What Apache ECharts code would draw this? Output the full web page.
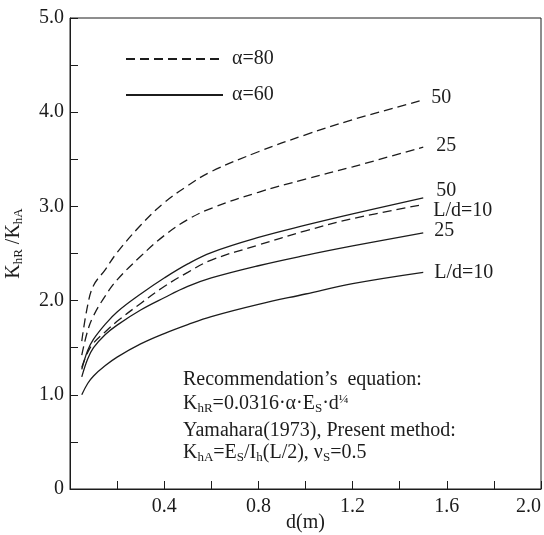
<!DOCTYPE html>
<html><head><meta charset="utf-8">
<script src="https://cdn.jsdelivr.net/npm/echarts@6/dist/echarts.min.js"></script>
<style>html,body{margin:0;padding:0;background:#fff}#c{width:544px;height:535px}</style>
</head><body><div id="c"></div>
<script>
// pile diameter d (m)
const dValues = [0.05, 0.075, 0.1, 0.15, 0.2, 0.3, 0.4, 0.5, 0.6, 0.8, 1.0, 1.2, 1.5];
// alpha = 80 (dashed)
const a80_L50 = [1.57, 1.95, 2.16, 2.33, 2.51, 2.80, 3.04, 3.22, 3.37, 3.58, 3.76, 3.92, 4.13];
const a80_L25 = [1.42, 1.68, 1.84, 2.05, 2.22, 2.47, 2.69, 2.86, 2.98, 3.15, 3.29, 3.42, 3.63];
const a80_L10 = [1.29, 1.45, 1.55, 1.67, 1.78, 1.97, 2.15, 2.30, 2.43, 2.59, 2.74, 2.87, 3.02];
// alpha = 60 (solid)
const a60_L50 = [1.27, 1.47, 1.59, 1.75, 1.88, 2.07, 2.24, 2.39, 2.51, 2.67, 2.80, 2.92, 3.09];
const a60_L25 = [1.19, 1.38, 1.50, 1.64, 1.74, 1.90, 2.03, 2.15, 2.24, 2.37, 2.48, 2.58, 2.72];
const a60_L10 = [1.00, 1.12, 1.20, 1.31, 1.40, 1.54, 1.65, 1.745, 1.83, 1.96, 2.07, 2.18, 2.30];

const legendNames = ['α=80', 'α=60'];
const curveLabels = ['50', '25', 'L/d=10'];
const xTickLabels = ['0.4', '0.8', '1.2', '1.6', '2.0'];
const yTickLabels = ['0', '1.0', '2.0', '3.0', '4.0', '5.0'];

const FONT = 'Liberation Serif';
const FS = 20;
const INK = '#1c1c1c';

function pairs(vals) { return dValues.map((d, i) => [d, vals[i]]); }

function makeSeries(name, vals, dashed, label, offset) {
  return {
    name: name, type: 'line', data: pairs(vals),
    symbol: 'none', smooth: 0.4,
    lineStyle: { color: INK, width: 1.3, type: dashed ? [9, 5] : 'solid' },
    itemStyle: { color: INK },
    endLabel: { show: true, formatter: label, offset: offset,
      fontFamily: FONT, fontSize: FS, color: INK },
    z: 3
  };
}

const sub = { fontFamily: FONT, fontSize: 13, color: INK, verticalAlign: 'bottom', lineHeight: 14 };
const main = { fontFamily: FONT, fontSize: FS, color: INK, lineHeight: 22 };
const sup = { fontFamily: FONT, fontSize: 13, color: INK, verticalAlign: 'top', lineHeight: 18 };
const richSet = { m: main, s: sub, u: sup };

function textEl(x, y, text) {
  return { type: 'text', style: { x: x, y: y, text: text, rich: richSet,
    verticalAlign: 'middle', align: 'left', fill: INK, font: FS + 'px ' + FONT } };
}

const chart = echarts.init(document.getElementById('c'), null, { renderer: 'canvas' });
chart.setOption({
  animation: false,
  backgroundColor: '#fff',
  grid: { left: 70, right: 3, top: 18, bottom: 46, show: true, borderColor: INK, borderWidth: 1,
    containLabel: false, outerBoundsMode: 'none' },
  legend: {
    orient: 'vertical', left: 120, top: 44, itemWidth: 97, itemHeight: 2, itemGap: 16,
    data: legendNames,
    itemStyle: { opacity: 0 },
    textStyle: { fontFamily: FONT, fontSize: FS, color: INK, padding: [0, 0, 0, 4] }
  },
  xAxis: {
    type: 'value', min: 0, max: 2.0, interval: 0.2,
    name: 'd(m)', nameLocation: 'middle', nameGap: 24, nameMoveOverlap: false,
    nameTextStyle: { fontFamily: FONT, fontSize: FS, color: INK },
    axisLine: { lineStyle: { color: INK, width: 1 } },
    axisTick: { inside: true, length: 8, lineStyle: { color: INK } },
    splitLine: { show: false },
    axisLabel: { fontFamily: FONT, fontSize: FS, color: INK, margin: 8, alignMaxLabel: 'right',
      formatter: v => { const s = v.toFixed(1); return xTickLabels.includes(s) ? s : ''; } }
  },
  yAxis: {
    type: 'value', min: 0, max: 5.0, interval: 0.5,
    name: '{m|K}{s|hR}{m| /K}{s|hA}', nameLocation: 'middle', nameGap: 45, nameRotate: 90,
    nameTextStyle: { rich: richSet, fontFamily: FONT, fontSize: FS, color: INK, padding: [0, 0, 0, 20] },
    axisLine: { lineStyle: { color: INK, width: 1 } },
    axisTick: { inside: true, length: 8, lineStyle: { color: INK } },
    splitLine: { show: false },
    axisLabel: { fontFamily: FONT, fontSize: FS, color: INK, margin: 6,
      formatter: v => { const s = v === 0 ? '0' : v.toFixed(1); return yTickLabels.includes(s) ? s : ''; } }
  },
  series: [
    makeSeries(legendNames[0], a80_L50, true, curveLabels[0], [0, -2]),
    makeSeries(legendNames[0], a80_L25, true, curveLabels[1], [5, -1]),
    makeSeries(legendNames[0], a80_L10, true, curveLabels[2], [2, 6]),
    makeSeries(legendNames[1], a60_L50, false, curveLabels[0], [5, -7]),
    makeSeries(legendNames[1], a60_L25, false, curveLabels[1], [3, -2]),
    makeSeries(legendNames[1], a60_L10, false, curveLabels[2], [3, 0])
  ],
  graphic: [
    textEl(183, 380, '{m|Recommendation’s  equation:}'),
    textEl(183, 404, '{m|K}{s|hR}{m|=0.0316·α·E}{s|S}{m|·d}{u|¼}'),
    textEl(183, 431, '{m|Yamahara(1973), Present method:}'),
    textEl(183, 453, '{m|K}{s|hA}{m|=E}{s|S}{m|/I}{s|h}{m|(L/2), ν}{s|S}{m|=0.5}')
  ]
});
</script></body></html>
